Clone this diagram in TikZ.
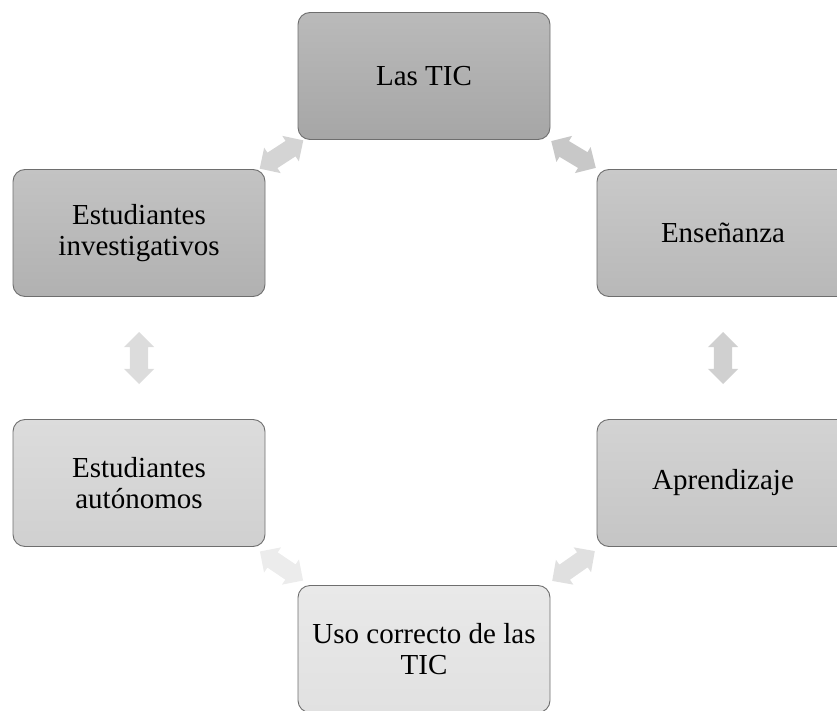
\documentclass[tikz,border=0pt]{standalone}
\usepackage{fontspec}
\setmainfont{Liberation Serif}
\usetikzlibrary{shapes.arrows,calc}
\definecolor{boxline}{HTML}{6E6E6E}
\definecolor{fTICt}{HTML}{BABABA}\definecolor{fTICb}{HTML}{A6A6A6}
\definecolor{fENSt}{HTML}{C9C9C9}\definecolor{fENSb}{HTML}{B8B8B8}
\definecolor{fAPRt}{HTML}{D3D3D3}\definecolor{fAPRb}{HTML}{C5C5C5}
\definecolor{fUSOt}{HTML}{E9E9E9}\definecolor{fUSOb}{HTML}{E1E1E1}
\definecolor{fAUTt}{HTML}{DCDCDC}\definecolor{fAUTb}{HTML}{D0D0D0}
\definecolor{fINVt}{HTML}{C3C3C3}\definecolor{fINVb}{HTML}{B1B1B1}
\definecolor{aA}{HTML}{D4D4D4}\definecolor{aB}{HTML}{C8C8C8}
\definecolor{aC}{HTML}{D0D0D0}\definecolor{aD}{HTML}{E0E0E0}
\definecolor{aE}{HTML}{ECECEC}\definecolor{aF}{HTML}{DCDCDC}
\begin{document}
\begin{tikzpicture}[x=1pt,y=-1pt,
  box/.style={draw=boxline, line width=0.9pt, rounded corners=12pt,
    minimum width=252pt, minimum height=127pt, inner sep=0pt,
    align=center, font=\fontsize{29}{31}\selectfont},
  dbl/.style={double arrow, draw=none, minimum height=52pt, minimum width=30pt,
    inner xsep=0pt, inner ysep=9pt, double arrow head extend=6pt}]
\useasboundingbox (0,0) rectangle (837,711);
\clip (0,0) rectangle (837,711);
\node[box, top color=fTICt, bottom color=fTICb] (tic) at (424,76) {Las TIC};
\node[box, top color=fINVt, bottom color=fINVb] (inv) at (139,233) {Estudiantes\\investigativos};
\node[box, top color=fENSt, bottom color=fENSb] (ens) at (723,233) {Enseñanza};
\node[box, top color=fAUTt, bottom color=fAUTb] (aut) at (139,483) {Estudiantes\\autónomos};
\node[box, top color=fAPRt, bottom color=fAPRb] (apr) at (723,483) {Aprendizaje};
\node[box, top color=fUSOt, bottom color=fUSOb] (uso) at (424,649) {Uso correcto de las\\TIC};
\node[dbl, fill=aA, rotate=33] (a1) at ($(tic.south west)!0.5!(inv.north east)$) {};
\node[dbl, fill=aB, rotate=-31] (a2) at ($(tic.south east)!0.5!(ens.north west)$) {};
\node[dbl, fill=aC, rotate=90] (a3) at ($(ens.south)!0.5!(apr.north)$) {};
\node[dbl, fill=aD, rotate=35] (a4) at ($(apr.south west)!0.5!(uso.north east)$) {};
\node[dbl, fill=aE, rotate=-34] (a5) at ($(aut.south east)!0.5!(uso.north west)$) {};
\node[dbl, fill=aF, rotate=90] (a6) at ($(inv.south)!0.5!(aut.north)$) {};
\end{tikzpicture}
\end{document}
